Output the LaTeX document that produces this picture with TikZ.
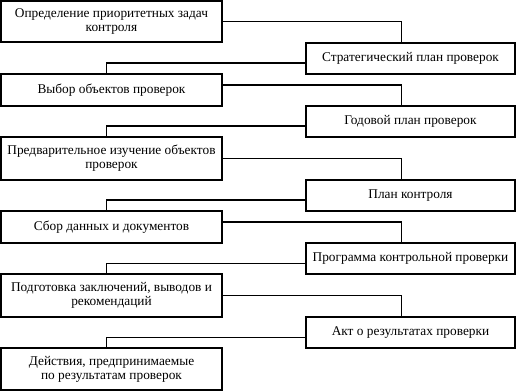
\documentclass[tikz,border=0pt]{standalone}
\usepackage{fontspec}
\setmainfont{Liberation Serif}
\begin{document}
\begin{tikzpicture}[
  x=0.75pt,y=-0.75pt,
  every node/.style={font=\fontsize{10}{10.5}\selectfont,align=center},
  lbox/.style={draw,line width=0.8pt,minimum width=165.75pt,inner sep=1pt},
  rbox/.style={draw,line width=0.8pt,minimum width=156.75pt,minimum height=23.25pt,inner sep=1pt},
  link/.style={line width=0.8pt}
]
  \useasboundingbox (0,0) rectangle (516,391);
  % left column: stages
  \node[lbox,minimum height=30.75pt] (tasks) at (111.5,21.5) {Определение приоритетных задач\\контроля};
  \node[lbox,minimum height=24pt] (choice) at (111.5,90) {Выбор объектов проверок};
  \node[lbox,minimum height=32.25pt] (study) at (111.5,158.5) {Предварительное изучение объектов\\проверок};
  \node[lbox,minimum height=24pt] (collect) at (111.5,227) {Сбор данных и документов};
  \node[lbox,minimum height=32.25pt] (report) at (111.5,295.5) {Подготовка заключений, выводов и\\рекомендаций};
  \node[lbox,minimum height=31.5pt] (actions) at (111.5,369) {Действия, предпринимаемые\\по результатам проверок};
  % right column: documents
  \node[rbox] (strategy) at (410.5,58.5) {Стратегический план проверок};
  \node[rbox] (annual) at (410.5,121.5) {Годовой план проверок};
  \node[rbox] (plan) at (410.5,195.5) {План контроля};
  \node[rbox] (program) at (410.5,258.5) {Программа контрольной проверки};
  \node[rbox] (act) at (410.5,332.5) {Акт о результатах проверки};

  \draw[link] (tasks.east) -| ([xshift=-7.1pt]strategy.north);
  \draw[link] ([yshift=-3.4pt]strategy.west) -| ([xshift=-4pt]choice.north);
  \draw[link] ([yshift=3.75pt]choice.east) -| ([xshift=-7.1pt]annual.north);
  \draw[link] ([yshift=-3.4pt]annual.west) -| ([xshift=-4pt]study.north);
  \draw[link] (study.east) -| ([xshift=-7.1pt]plan.north);
  \draw[link] ([yshift=-3.4pt]plan.west) -| ([xshift=-4pt]collect.north);
  \draw[link] ([yshift=3.75pt]collect.east) -| ([xshift=-7.1pt]program.north);
  \draw[link] ([yshift=-3.4pt]program.west) -| ([xshift=-4pt]report.north);
  \draw[link] (report.east) -| ([xshift=-7.1pt]act.north);
  \draw[link] ([yshift=-3.4pt]act.west) -| ([xshift=-4pt]actions.north);
\end{tikzpicture}
\end{document}
